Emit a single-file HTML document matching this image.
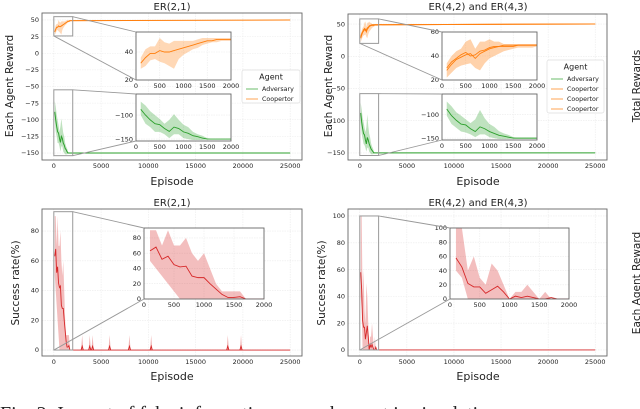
<!DOCTYPE html>
<html><head><meta charset="utf-8"><style>
html,body{margin:0;padding:0;background:#fff;width:640px;height:409px;overflow:hidden}
svg{display:block;font-family:"DejaVu Sans","Liberation Sans",sans-serif}
</style></head><body>
<svg id="fig" width="640" height="409" viewBox="0 0 640 409"></svg>
<script>
// ---------- data ----------
const episodes = [100,200,300,400,500,600,700,800,900,1000,1100,1200,1300,1400,1500,1600,1700,1800,1900,2000];
const tailEpisode = 25000;
// top-left ER(2,1)
const tlCoopMean = [32,36,39,39,41,40,40,41,42,43,44,45,46,47,48,48,49,49,49,49];
const tlCoopLo   = [28,30,34,35,33,32,30,28,35,38,40,42,43,45,46,47,47,48,48,48];
const tlCoopHi   = [36,42,44,44,50,47,46,48,48,48,48,48,49,50,50,50,50,50,50,50];
const tlAdvMean  = [-88,-100,-110,-118,-120,-128,-134,-125,-128,-135,-138,-143,-145,-148,-150,-150,-150,-150,-150,-150];
const tlAdvHi    = [-72,-80,-92,-100,-108,-118,-110,-98,-110,-120,-125,-135,-140,-143,-148,-150,-150,-150,-150,-150];
const tlAdvLo    = [-100,-118,-125,-135,-135,-140,-148,-140,-140,-148,-150,-152,-152,-152,-151,-151,-151,-151,-151,-151];
// top-right ER(4,2)/ER(4,3)
const trCoopMean = [28,33,37,39,41,42,38,42,44,46,47,48,48,48,48,49,49,49,49,49];
const trCoopLo   = [22,26,30,32,33,34,30,28,34,38,40,42,44,45,46,47,47,47,47,48];
const trCoopHi   = [34,40,44,46,52,54,46,52,52,54,52,52,50,50,50,50,50,50,50,50];
const trCoop2Mean= [30,35,38,41,43,40,41,44,45,47,48,48,49,49,49,49,49,49,49,49];
const trAdvMean  = [-88,-102,-112,-120,-122,-130,-136,-126,-130,-136,-140,-144,-146,-148,-150,-150,-150,-150,-150,-150];
const trAdvHi    = [-72,-82,-95,-102,-110,-118,-110,-90,-108,-120,-126,-135,-140,-143,-148,-150,-150,-150,-150,-150];
const trAdvLo    = [-102,-120,-128,-136,-138,-142,-148,-142,-142,-148,-150,-152,-152,-152,-151,-151,-151,-151,-151,-151];
const coopTail = 50, advTail = -150;
// bottom-left success
const blMean = [63,68,52,56,45,42,43,30,28,28,20,13,6,2,2,3,0,0,0,0];
const blHi   = [90,90,70,90,70,70,80,60,50,60,40,20,10,10,10,10,0,0,0,0];
const blLo   = [50,40,30,20,10,0,0,0,0,0,0,0,0,0,0,0,0,0,0,0];
const blSpikes = [3000,3800,4100,5900,8000,10300,18400,19800];
const blSpikeHeight = [10,10,10,10,10,10,10,10];
// bottom-right success
const brMean = [58,45,22,17,17,8,13,18,10,0,4,2,4,2,0,0,2,0,0,0];
const brHi   = [100,100,40,60,30,20,50,40,20,0,10,10,20,10,0,10,0,0,0,0];
const brLo   = [40,30,0,0,0,0,0,0,0,0,0,0,0,0,0,0,0,0,0,0];
// ticks
const mainXTicks = [0,5000,10000,15000,20000,25000];
const insetXTicks = [0,500,1000,1500,2000];
const tlYTicks = [50,25,0,-25,-50,-75,-100,-125,-150];
const trYTicks = [50,0,-50,-100,-150];
const blYTicks = [0,20,40,60,80];
const brYTicks = [0,20,40,60,80,100];

// ---------- helpers ----------
const NS="http://www.w3.org/2000/svg";
const svg=document.getElementById('fig');
function mk(tag,attrs,parent){const e=document.createElementNS(NS,tag);for(const k in attrs)e.setAttribute(k,attrs[k]);(parent||svg).appendChild(e);return e;}
function lin(d0,d1,r0,r1){return v=>r0+(v-d0)*(r1-r0)/(d1-d0);}
function txt(x,y,s,size,anchor,parent,extra){const t=mk('text',Object.assign({x:x,y:y,'font-size':size,'text-anchor':anchor||'middle',fill:'#222'},extra||{}),parent);t.textContent=s;return t;}
let clipId=0;
function axes(g,box,xd,yd,xt,yt,opts){
  const X=lin(xd[0],xd[1],box[0],box[2]),Y=lin(yd[0],yd[1],box[3],box[1]);
  mk('rect',{x:box[0],y:box[1],width:box[2]-box[0],height:box[3]-box[1],fill:'#fff'},g);
  xt.forEach(v=>{const gl=mk('line',{x1:X(v),x2:X(v),y1:box[1],y2:box[3],stroke:'#ebebeb','stroke-width':0.6,'stroke-dasharray':'1.5,1'},g);
    
    const tl=txt(X(v),box[3]+opts.tickOff,String(v),opts.fs,'middle',g);
    });
  yt.forEach(v=>{const gl=mk('line',{x1:box[0],x2:box[2],y1:Y(v),y2:Y(v),stroke:'#ebebeb','stroke-width':0.6,'stroke-dasharray':'1.5,1'},g);
    
    const lab=(v<0?'\u2212'+(-v):String(v));
    const tl=txt(box[0]-3,Y(v)+2.2,lab,opts.fs,'end',g);
    });
  const id='c'+(clipId++);
  const cp=mk('clipPath',{id:id},g);mk('rect',{x:box[0],y:box[1],width:box[2]-box[0],height:box[3]-box[1]},cp);
  const plot=mk('g',{'clip-path':'url(#'+id+')'},g);
  return {X,Y,plot,box,frame:()=>{const f=mk('rect',{x:box[0],y:box[1],width:box[2]-box[0],height:box[3]-box[1],fill:'none',stroke:'#666','stroke-width':0.9},g);}};
}
function band(ax,xs,lo,hi,color,op,name){
  const pts=xs.map((x,i)=>ax.X(x)+','+ax.Y(hi[i])).concat(xs.map((x,i)=>ax.X(x)+','+ax.Y(lo[i])).reverse());
  const p=mk('polygon',{points:pts.join(' '),fill:color,'fill-opacity':op,stroke:'none'},ax.plot);
  
}
function line(ax,xs,ys,color,w,name){
  const p=mk('polyline',{points:xs.map((x,i)=>ax.X(x)+','+ax.Y(ys[i])).join(' '),fill:'none',stroke:color,'stroke-width':w},ax.plot);
  
}
function zoomMark(ax,inset,y0,y1,corners){
  const r=mk('rect',{x:ax.X(0),y:ax.Y(y1),width:ax.X(2000)-ax.X(0),height:ax.Y(y0)-ax.Y(y1),fill:'none',stroke:'#999','stroke-width':1},svg);
  
  corners.forEach(c=>{const l=mk('line',{x1:c[0]==='r'?ax.X(2000):ax.X(0),y1:c[1]==='t'?ax.Y(y1):ax.Y(y0),x2:inset.box[0],y2:c[2]==='t'?inset.box[1]:inset.box[3],stroke:'#999','stroke-width':0.9},svg);
    });
}
const ext=(a,t)=>a.concat([t]);
const extX=ext(episodes,tailEpisode);
const ORANGE='#ff7f0e',GREEN='#2ca02c',RED='#d62728';
const mainOpts={fs:6.5,tickOff:8};

// ---------- Top-left ----------
let g=mk('g',{});
let A=axes(g,[42,13,302,160],[-1250,26250],[-160.5,60.5],mainXTicks,tlYTicks,mainOpts);
band(A,extX,ext(tlCoopLo,coopTail),ext(tlCoopHi,coopTail),ORANGE,0.3,'cooperator-band');
line(A,extX,ext(tlCoopMean,coopTail),ORANGE,1,'cooperator-line');
band(A,extX,ext(tlAdvLo,advTail),ext(tlAdvHi,advTail),GREEN,0.3,'adversary-band');
line(A,extX,ext(tlAdvMean,advTail),GREEN,1,'adversary-line');
A.frame();
const io={fs:6.5,tickOff:8};
let I1=axes(g,[136,32,231,80],[0,2000],[20,54.3],insetXTicks,[40,20],io);
band(I1,episodes,tlCoopLo,tlCoopHi,ORANGE,0.3,'inset-cooperator-band');line(I1,episodes,tlCoopMean,ORANGE,0.9,'inset-cooperator-line');I1.frame();
let I2=axes(g,[136,94,231,141],[0,2000],[-154,-56],insetXTicks,[-100,-150],io);
band(I2,episodes,tlAdvLo,tlAdvHi,GREEN,0.3,'inset-adversary-band');line(I2,episodes,tlAdvMean,GREEN,0.9,'inset-adversary-line');I2.frame();
zoomMark(A,I1,26,55,[['r','t','t'],['l','b','b']]);
zoomMark(A,I2,-154,-55,[['r','t','t'],['r','b','b']]);
txt(172,10,'ER(2,1)',10,'middle',g,{});
txt(172,185,'Episode',11,'middle',g,{});
txt(13,86,'Each Agent Reward',10.5,'middle',g,{transform:'rotate(-90 13 86)',});
// legend
function legend(x,y,w,h,entries,colors){
  const lg=mk('g',{});
  mk('rect',{x:x,y:y,width:w,height:h,rx:2,fill:'#fff','fill-opacity':0.9,stroke:'#ddd','stroke-width':0.7},lg);
  txt(x+w/2,y+9.5,'Agent',8,'middle',lg);
  entries.forEach((e,i)=>{const ey=y+19+i*10;
    const l=mk('line',{x1:x+4,x2:x+16,y1:ey,y2:ey,stroke:colors[i],'stroke-width':1,'stroke-opacity':0.7},lg);
    
    const t=txt(x+20,ey+2.2,e,6.3,'start',lg);});
}
legend(242,70,58,33,['Adversary','Coopertor'],[GREEN,ORANGE]);

// ---------- Top-right ----------
g=mk('g',{});
A=axes(g,[348,14,607,160],[-1250,26250],[-161,65.6],mainXTicks,trYTicks,mainOpts);
band(A,extX,ext(trCoopLo,coopTail),ext(trCoopHi,coopTail),ORANGE,0.3,'cooperator-band');
line(A,extX,ext(trCoopMean,coopTail),ORANGE,1,'cooperator-line');
line(A,extX,ext(trCoop2Mean,coopTail),ORANGE,1,'cooperator-line-2');
band(A,extX,ext(trAdvLo,advTail),ext(trAdvHi,advTail),GREEN,0.3,'adversary-band');
line(A,extX,ext(trAdvMean,advTail),GREEN,1,'adversary-line');
A.frame();
I1=axes(g,[442,32,537,80],[0,2000],[20,60],insetXTicks,[60,40,20],io);
band(I1,episodes,trCoopLo,trCoopHi,ORANGE,0.35,'inset-cooperator-band');line(I1,episodes,trCoopMean,ORANGE,0.9,'inset-cooperator-line');line(I1,episodes,trCoop2Mean,ORANGE,0.9,'inset-cooperator-line-2');I1.frame();
I2=axes(g,[442,94,537,140],[0,2000],[-154,-56],insetXTicks,[-100,-150],io);
band(I2,episodes,trAdvLo,trAdvHi,GREEN,0.3,'inset-adversary-band');line(I2,episodes,trAdvMean,GREEN,0.9,'inset-adversary-line');I2.frame();
zoomMark(A,I1,20,58,[['r','t','t'],['l','b','b']]);
zoomMark(A,I2,-154,-58,[['r','t','t'],['r','b','b']]);
txt(478,10,'ER(4,2) and ER(4,3)',10,'middle',g,{});
txt(478,185,'Episode',11,'middle',g,{});
txt(332,86,'Each Agent Reward',10.5,'middle',g,{transform:'rotate(-90 332 86)',});
legend(547,60,57,53,['Adversary','Coopertor','Coopertor','Coopertor'],[GREEN,ORANGE,ORANGE,ORANGE]);

// ---------- Bottom-left ----------
g=mk('g',{});
A=axes(g,[42,209,302,356],[-1250,26250],[-4,94.8],mainXTicks,blYTicks,mainOpts);
band(A,extX,ext(blLo,0),ext(blHi,0),RED,0.3,'success-band');
line(A,extX,ext(blMean,0),RED,0.9,'success-line');
blSpikes.forEach((s,i)=>{band(A,[s-120,s,s+120],[0,0,0],[0,blSpikeHeight[i],0],RED,0.35,'success-spike');
  line(A,[s-120,s,s+120],[0,blSpikeHeight[i]*0.25,0],RED,0.9,'success-spike-line');});
A.frame();
I1=axes(g,[144,228,264,299],[0,2000],[0,93],insetXTicks,blYTicks,io);
band(I1,episodes,blLo,blHi,RED,0.3,'inset-success-band');line(I1,episodes,blMean,RED,0.9,'inset-success-line');I1.frame();
zoomMark(A,I1,0,93,[['r','t','t'],['l','b','b']]);
txt(172,206,'ER(2,1)',10,'middle',g,{});
txt(172,380,'Episode',11,'middle',g,{});
txt(19,283,'Success rate(%)',10.5,'middle',g,{transform:'rotate(-90 19 283)',});

// ---------- Bottom-right ----------
g=mk('g',{});
A=axes(g,[348,209,607,356],[-1250,26250],[-4.5,105.2],mainXTicks,brYTicks,mainOpts);
band(A,extX,ext(brLo,0),ext(brHi,0),RED,0.3,'success-band');
line(A,extX,ext(brMean,0),RED,0.9,'success-line');
A.frame();
I1=axes(g,[450,228,569,299],[0,2000],[0,100],insetXTicks,brYTicks,io);
band(I1,episodes,brLo,brHi,RED,0.3,'inset-success-band');line(I1,episodes,brMean,RED,0.9,'inset-success-line');I1.frame();
zoomMark(A,I1,0,100,[['r','t','t'],['l','b','b']]);
txt(478,206,'ER(4,2) and ER(4,3)',10,'middle',g,{});
txt(478,380,'Episode',11,'middle',g,{});
txt(325,283,'Success rate(%)',10.5,'middle',g,{transform:'rotate(-90 325 283)',});

// cut-off neighbours and caption
txt(640,86,'Total Rewards',10.5,'middle',svg,{transform:'rotate(-90 640 86)',});
txt(640,283,'Each Agent Reward',10.5,'middle',svg,{transform:'rotate(-90 640 283)',});
txt(0,420,'Fig. 2: Impact of fake information on each agent in simulation',20,'start',svg,{'font-family':'Liberation Serif, serif',});
</script>
</body></html>
